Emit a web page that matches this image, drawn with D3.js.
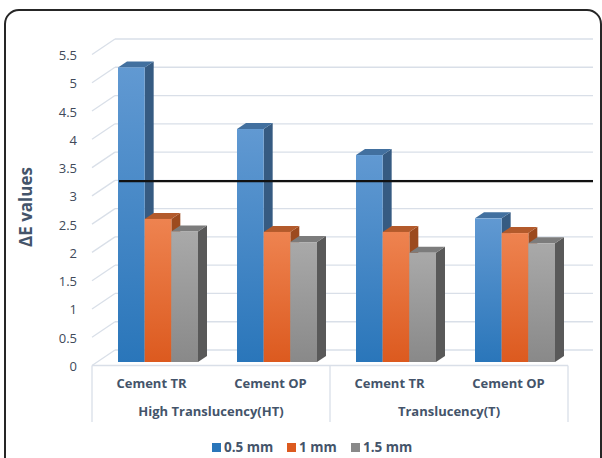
<!DOCTYPE html>
<html><head><meta charset="utf-8">
<script src="https://cdn.jsdelivr.net/npm/d3@7"></script>
<style>body{margin:0;background:#fff}svg{display:block}</style>
</head><body>
<script>
const categories = ["Cement TR","Cement OP","Cement TR","Cement OP"];
const groups = ["High Translucency(HT)","Translucency(T)"];
const series = ["0.5 mm","1 mm","1.5 mm"];
const values05 = [5.21, 4.12, 3.66, 2.54];
const values1  = [2.53, 2.30, 2.30, 2.28];
const values15 = [2.31, 2.12, 1.93, 2.10];
const threshold = 3.2;
const yTicks = [0,0.5,1,1.5,2,2.5,3,3.5,4,4.5,5,5.5];
const yTitle = "ΔE values";

const W=602,H=458;
const svg=d3.select("body").append("svg").attr("width",W).attr("height",H);
const font="'Open Sans', 'Noto Sans', sans-serif";
const txtCol="#44546a";
const gridCol="#d9dfe8";

// front plane scales
const x=d3.scaleBand().domain(d3.range(categories.length)).range([92,568]).padding(0);
const y=d3.scaleLinear().domain([0,5.5]).range([365.5,54.5]);
const back={dx:23,dy:-15.5};
const barOff={dx:6.5,dy:-3.5};
const depth={dx:9,dy:-6};
const xs=d3.scaleBand().domain(series).range([-40,40]).padding(0);

// frame
svg.append("rect").attr("x",5).attr("y",10).attr("width",596).attr("height",470).attr("rx",14)
  .attr("fill","#fff").attr("stroke","#262626").attr("stroke-width",2);

// gradients
const defs=svg.append("defs");
const pal=[
 {top:"#6199d2",bot:"#2a76ba",side:"#365b82",cap:"#42709f"},
 {top:"#ee8350",bot:"#dc5a1f",side:"#9c4a1e",cap:"#b35a2b"},
 {top:"#a9a9a9",bot:"#898989",side:"#595959",cap:"#7c7c7c"}];
pal.forEach((p,i)=>{
  const g=defs.append("linearGradient").attr("id","g"+i).attr("x1",0).attr("y1",0).attr("x2",0).attr("y2",1);
  g.append("stop").attr("offset","0%").attr("stop-color",p.top);
  g.append("stop").attr("offset","100%").attr("stop-color",p.bot);
});

// back wall gridlines + slants
const gl=svg.append("g");
yTicks.forEach(t=>{
  gl.append("line").attr("x1",92+back.dx).attr("x2",593).attr("y1",y(t)+back.dy).attr("y2",y(t)+back.dy)
    .attr("stroke",gridCol).attr("stroke-width",1.3);
  gl.append("line").attr("x1",92).attr("y1",y(t)).attr("x2",92+back.dx).attr("y2",y(t)+back.dy)
    .attr("stroke",gridCol).attr("stroke-width",1.3);
});
// floor front edge
gl.append("line").attr("x1",92).attr("x2",568).attr("y1",y(0)).attr("y2",y(0))
  .attr("stroke",gridCol).attr("stroke-width",1.3);

// tick labels
svg.append("g").selectAll("text").data(yTicks).join("text")
  .attr("x",77).attr("y",d=>y(d)+2).attr("text-anchor","end").attr("dominant-baseline","middle")
  .attr("font-family",font).attr("font-size",13).attr("fill","#404a5a").text(d=>d);

// y title
svg.append("text").attr("transform","translate(32,207) rotate(-90)").attr("text-anchor","middle")
  .attr("font-family",font).attr("font-size",17).attr("font-weight","bold").attr("fill",txtCol).text(yTitle);

// bars
const allVals=[values05,values1,values15];
const yb=v=>y(v)+barOff.dy;
const bars=svg.append("g");
categories.forEach((c,ci)=>{
  series.forEach((s,si)=>{
    const v=allVals[si][ci];
    const x0=x(ci)+x.bandwidth()/2+barOff.dx+xs(s), x1=x0+xs.bandwidth();
    const yt=yb(v), y0=yb(0);
    const p=pal[si];
    bars.append("path").attr("d",`M${x1},${y0}L${x1+depth.dx},${y0+depth.dy}L${x1+depth.dx},${yt+depth.dy}L${x1},${yt}Z`).attr("fill",p.side);
    bars.append("path").attr("d",`M${x0},${yt}L${x0+depth.dx},${yt+depth.dy}L${x1+depth.dx},${yt+depth.dy}L${x1},${yt}Z`).attr("fill",p.cap);
    bars.append("rect").attr("x",x0).attr("y",yt).attr("width",xs.bandwidth()).attr("height",y0-yt).attr("fill",`url(#g${si})`);
  });
});

// threshold line
svg.append("line").attr("x1",119).attr("x2",593).attr("y1",yb(threshold)).attr("y2",yb(threshold))
  .attr("stroke","#111").attr("stroke-width",2.2);

// category axis
const ax=svg.append("g");
[92,330,568].forEach(xx=>ax.append("line").attr("x1",xx).attr("x2",xx).attr("y1",y(0)).attr("y2",422).attr("stroke",gridCol).attr("stroke-width",1.3));
ax.selectAll("text.cat").data(categories).join("text").attr("class","cat")
  .attr("x",(d,i)=>x(i)+x.bandwidth()/2).attr("y",385).attr("text-anchor","middle").attr("dominant-baseline","middle")
  .attr("font-family",font).attr("font-size",13).attr("font-weight","bold").attr("fill",txtCol).text(d=>d);
ax.selectAll("text.grp").data(groups).join("text").attr("class","grp")
  .attr("x",(d,i)=>(x(i*2)+x(i*2+1)+x.bandwidth())/2).attr("y",413).attr("text-anchor","middle").attr("dominant-baseline","middle")
  .attr("font-family",font).attr("font-size",13).attr("font-weight","bold").attr("fill",txtCol).text(d=>d);

// legend
const legX=[212,287,351];
const lg=svg.append("g");
series.forEach((s,i)=>{
  lg.append("rect").attr("x",legX[i]).attr("y",443).attr("width",9).attr("height",9).attr("fill",pal[i].bot);
  lg.append("text").attr("x",legX[i]+12).attr("y",448).attr("dominant-baseline","middle")
    .attr("font-family",font).attr("font-size",13.5).attr("font-weight","bold").attr("fill",txtCol).text(s);
});
</script>
</body></html>
